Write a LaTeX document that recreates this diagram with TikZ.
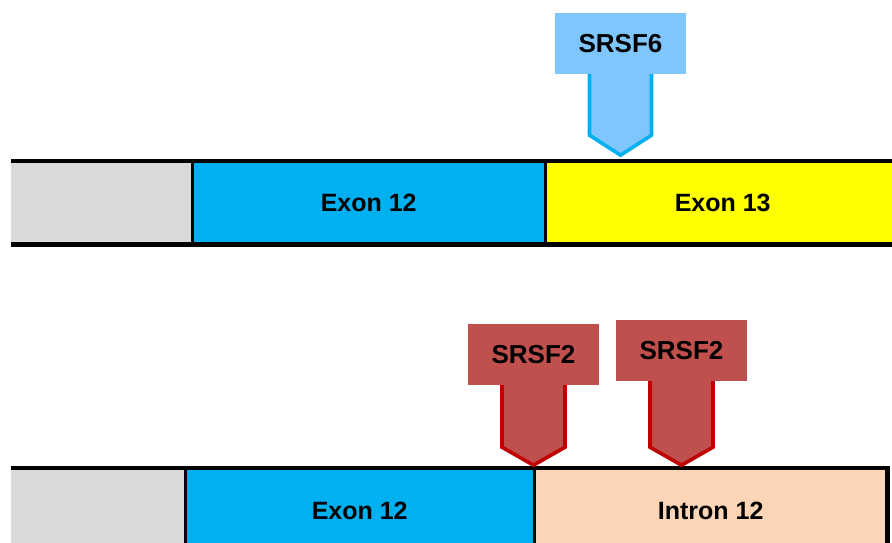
\documentclass[tikz,border=0pt]{standalone}
\usepackage{fontspec}
\setmainfont{Liberation Sans}
\usetikzlibrary{calc}

\definecolor{segGray}{HTML}{D9D9D9}
\definecolor{segBlue}{HTML}{00B0F0}
\definecolor{segYellow}{HTML}{FFFF00}
\definecolor{segPeach}{HTML}{FBD5B5}
\definecolor{tagBlue}{HTML}{7FC6FF}
\definecolor{tagBlueLine}{HTML}{00B0F0}
\definecolor{tagRed}{HTML}{C0504D}
\definecolor{tagRedLine}{HTML}{C00000}

\tikzset{
  seg/.style={rectangle, inner sep=0pt, anchor=north west, draw=none,
              font=\fontsize{25}{30}\selectfont\bfseries},
  tagbox/.style={rectangle, inner sep=0pt, minimum width=131pt, minimum height=61pt,
                 draw=none, font=\fontsize{26}{31}\selectfont\bfseries},
  border/.style={line width=4.2pt, black},
  divider/.style={line width=3.4pt, black},
  shaft/.style={line width=3.6pt, line join=miter, line cap=butt}
}

\begin{document}
\begin{tikzpicture}[x=1pt, y=-1pt]
  \useasboundingbox (0,0) rectangle (892,542);

  % ---- upper transcript: exon 12 joined to exon 13 ----
  \node[seg, fill=segGray,   minimum width=181pt, minimum height=83pt] (g1)  at (11,161)  {};
  \node[seg, fill=segBlue,   minimum width=353pt, minimum height=83pt] (e12) at (192,161) {Exon 12};
  \node[seg, fill=segYellow, minimum width=355pt, minimum height=83pt] (e13) at (545,161) {Exon 13};
  \draw[border] (g1.north west) -- (e13.north east);
  \draw[border] (g1.south west) -- (e13.south east);
  \draw[divider] (g1.north east) -- (g1.south east);
  \draw[divider] (e12.north east) -- (e12.south east);

  % ---- lower transcript: exon 12 followed by intron 12 ----
  \node[seg, fill=segGray,  minimum width=174pt, minimum height=85pt] (g2)  at (11,468)  {};
  \node[seg, fill=segBlue,  minimum width=349pt, minimum height=85pt] (x12) at (185,468) {Exon 12};
  \node[seg, fill=segPeach, minimum width=353pt, minimum height=85pt] (i12) at (534,468) {Intron 12};
  \draw[border] (g2.north west) -- ([xshift=2.1pt]i12.north east);
  \draw[border] (g2.south west) -- ([xshift=2.1pt]i12.south east);
  \draw[divider] (g2.north east) -- (g2.south east);
  \draw[divider] (x12.north east) -- (x12.south east);
  \draw[border] (i12.north east) -- (i12.south east);

  % ---- SRSF6 binding marker ----
  \node[tagbox, fill=tagBlue] (s6) at (620.5,43.5) {SRSF6};
  \draw[shaft, draw=tagBlueLine, fill=tagBlue]
    ($(s6.south)+(-31,0)$) -- ($(s6.south)+(-31,61)$) -- ($(s6.south)+(0,81)$)
    -- ($(s6.south)+(31,61)$) -- ($(s6.south)+(31,0)$);

  % ---- SRSF2 binding markers ----
  \node[tagbox, fill=tagRed] (s2a) at (533.5,354.5) {SRSF2};
  \draw[shaft, draw=tagRedLine, fill=tagRed]
    ($(s2a.south)+(-31.5,0)$) -- ($(s2a.south)+(-31.5,62)$) -- ($(s2a.south)+(0,80)$)
    -- ($(s2a.south)+(31.5,62)$) -- ($(s2a.south)+(31.5,0)$);

  \node[tagbox, fill=tagRed] (s2b) at (681.5,350.5) {SRSF2};
  \draw[shaft, draw=tagRedLine, fill=tagRed]
    ($(s2b.south)+(-31.5,0)$) -- ($(s2b.south)+(-31.5,66)$) -- ($(s2b.south)+(0,84)$)
    -- ($(s2b.south)+(31.5,66)$) -- ($(s2b.south)+(31.5,0)$);
\end{tikzpicture}
\end{document}
